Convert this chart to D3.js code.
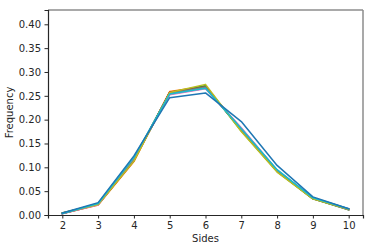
<!DOCTYPE html>
<html>
<head>
<meta charset="utf-8">
<script src="https://cdn.jsdelivr.net/npm/d3@7"></script>
<style>
  body { margin: 0; background: #fff; }
  text { font-family: "DejaVu Sans", sans-serif; fill: #262626; }
</style>
</head>
<body>
<div id="chart-area"></div>
<script>
// sides and frequency per run
var sides = [2, 3, 4, 5, 6, 7, 8, 9, 10];
var yTicks = [0.00, 0.05, 0.10, 0.15, 0.20, 0.25, 0.30, 0.35, 0.40];
var colors = ["#1f77b4", "#ff7f0e", "#2ca02c", "#d62728", "#9467bd",
              "#8c564b", "#e377c2", "#7f7f7f", "#bcbd22", "#17becf", "#1f77b4"];
var runs = [
    [0.003, 0.022, 0.118, 0.256, 0.268, 0.180, 0.093, 0.035, 0.012],
    [0.003, 0.021, 0.112, 0.259, 0.270, 0.178, 0.092, 0.035, 0.012],
    [0.004, 0.023, 0.116, 0.257, 0.271, 0.176, 0.091, 0.034, 0.011],
    [0.003, 0.022, 0.114, 0.258, 0.267, 0.181, 0.093, 0.036, 0.012],
    [0.003, 0.024, 0.117, 0.253, 0.266, 0.182, 0.094, 0.035, 0.013],
    [0.004, 0.022, 0.115, 0.256, 0.269, 0.179, 0.092, 0.034, 0.012],
    [0.003, 0.021, 0.119, 0.252, 0.265, 0.183, 0.094, 0.036, 0.012],
    [0.003, 0.023, 0.116, 0.255, 0.268, 0.180, 0.093, 0.035, 0.011],
    [0.004, 0.022, 0.113, 0.257, 0.274, 0.175, 0.090, 0.034, 0.012],
    [0.003, 0.024, 0.121, 0.254, 0.266, 0.181, 0.095, 0.036, 0.013],
    [0.004, 0.026, 0.124, 0.246, 0.256, 0.196, 0.104, 0.038, 0.013]
];

var margin = { left: 48, right: 11, top: 10, bottom: 36 };
var width = 374 - margin.left - margin.right,
    height = 251 - margin.top - margin.bottom;

var svg = d3.select("#chart-area")
    .append("svg")
        .attr("width", 374)
        .attr("height", 251);

var g = svg.append("g")
    .attr("transform", "translate(" + margin.left + ", " + margin.top + ")");

var x = d3.scaleLinear()
    .domain([1.6, 10.4])
    .range([0, width]);

var y = d3.scaleLinear()
    .domain([0, 0.43])
    .range([height, 0]);

// lines
var line = d3.line()
    .x(function(d, i){ return x(sides[i]); })
    .y(function(d){ return y(d); });

g.selectAll(".run")
    .data(runs)
    .enter()
    .append("path")
        .attr("class", "run")
        .attr("d", line)
        .attr("fill", "none")
        .attr("stroke", function(d, i){ return colors[i]; })
        .attr("stroke-width", 1.5)
        .attr("stroke-linejoin", "round")
        .attr("stroke-linecap", "square");

// frame: top and right light
g.append("line")
    .attr("x1", 0).attr("x2", width).attr("y1", 0).attr("y2", 0)
    .attr("stroke", "#8c8c8c").attr("stroke-width", 1.5);
g.append("line")
    .attr("x1", width).attr("x2", width).attr("y1", 0).attr("y2", height)
    .attr("stroke", "#8c8c8c").attr("stroke-width", 1.5);

var xAxisCall = d3.axisBottom(x)
    .tickValues(sides)
    .tickSize(3.5)
    .tickPadding(3.5)
    .tickFormat(d3.format("d"));
var xAxis = g.append("g")
    .attr("class", "x axis")
    .attr("transform", "translate(0, " + height + ")")
    .call(xAxisCall);

var yAxisCall = d3.axisLeft(y)
    .tickValues(yTicks)
    .tickSize(3.5)
    .tickPadding(3.5)
    .tickFormat(d3.format(".2f"));
var yAxis = g.append("g")
    .attr("class", "y axis")
    .call(yAxisCall);

[xAxis, yAxis].forEach(function(a){
    a.select(".domain").attr("stroke", "#262626").attr("stroke-width", 1.2);
    a.selectAll(".tick line").attr("stroke", "#262626");
    a.selectAll(".tick text")
        .attr("font-size", "10px")
        .attr("font-family", "DejaVu Sans")
        .attr("fill", "#262626");
});

// X Label
g.append("text")
    .attr("x", width / 2)
    .attr("y", height + 27)
    .attr("font-size", "10px")
    .attr("text-anchor", "middle")
    .text("Sides");

// Y Label
g.append("text")
    .attr("x", -(height / 2))
    .attr("y", -35)
    .attr("font-size", "10px")
    .attr("text-anchor", "middle")
    .attr("transform", "rotate(-90)")
    .text("Frequency");
</script>
</body>
</html>
